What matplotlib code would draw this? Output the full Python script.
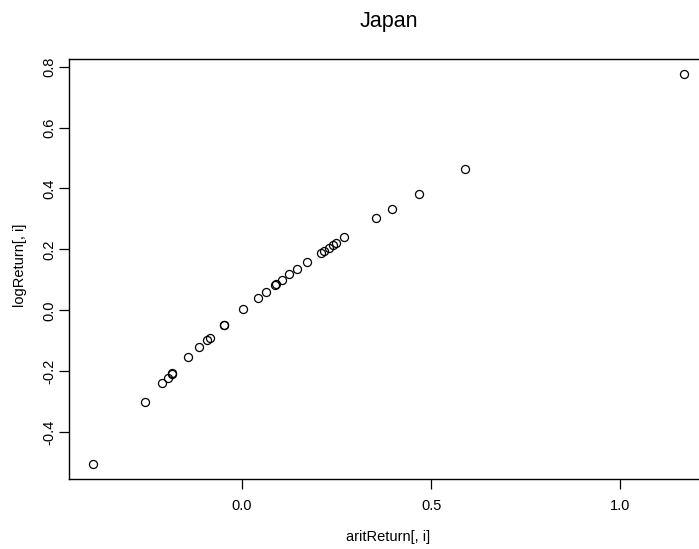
import numpy as np
import matplotlib
matplotlib.use("Agg")
import matplotlib.pyplot as plt

plt.rcParams['font.family'] = ['Liberation Sans', 'DejaVu Sans']
plt.rcParams['axes.unicode_minus'] = False

# values
arit_return = [-0.395, -0.257, -0.2125, -0.197, -0.186, -0.184, -0.143, -0.113,
               -0.0925, -0.0856, -0.0486, -0.0480, 0.0034, 0.043, 0.064, 0.087,
               0.089, 0.1065, 0.125, 0.146, 0.171, 0.208, 0.216, 0.229, 0.239,
               0.249, 0.270, 0.354, 0.396, 0.4676, 0.589, 1.169]
log_return = [-0.504, -0.300, -0.2405, -0.221, -0.208, -0.205, -0.155, -0.121,
              -0.097, -0.0906, -0.050, -0.049, 0.0036, 0.0418, 0.060, 0.082,
              0.085, 0.1008, 0.118, 0.137, 0.158, 0.188, 0.195, 0.204, 0.214,
              0.222, 0.240, 0.303, 0.334, 0.383, 0.464, 0.775]
x_ticks = [0.0, 0.5, 1.0]
y_ticks = [-0.4, -0.2, 0.0, 0.2, 0.4, 0.6, 0.8]

W, H = 699, 549
fig = plt.figure(figsize=(W/100, H/100), dpi=100)
# plot region runs past the right edge, like the original
ax = fig.add_axes([69/W, 1 - 479.3/H, 639/W, (479.3 - 58.7)/H])

ax.plot(arit_return, log_return, linestyle='none', marker='o', ms=5.8,
        mfc='none', mec='black', mew=0.9)

# R style 4% padding
xr = max(arit_return) - min(arit_return)
yr = max(log_return) - min(log_return)
ax.set_xlim(min(arit_return) - 0.04*xr, max(arit_return) + 0.04*xr)
ax.set_ylim(min(log_return) - 0.04*yr, max(log_return) + 0.04*yr)

ax.set_xticks(x_ticks)
ax.set_xticklabels(['%.1f' % v for v in x_ticks])
ax.set_yticks(y_ticks)
ax.set_yticklabels(['%.1f' % v for v in y_ticks], rotation=90, va='center')

ax.tick_params(direction='out', length=7, width=0.9, labelsize=10.5,
               colors='black')
ax.tick_params(axis='x', pad=7.5)
ax.tick_params(axis='y', pad=1.8)
for s in ax.spines.values():
    s.set_linewidth(1.0)

# title and axis labels placed where R puts them
fig.text(388.5/W, 1 - 22/H, 'Japan', fontsize=15.5, ha='center', va='center')
fig.text(388.5/W, 1 - 537/H, 'aritReturn[, i]', fontsize=10.5,
         ha='center', va='center')
fig.text(20/W, 1 - 265/H, 'logReturn[, i]', fontsize=10.5, rotation=90,
         ha='center', va='center')

fig.savefig('out.png', dpi=100)
